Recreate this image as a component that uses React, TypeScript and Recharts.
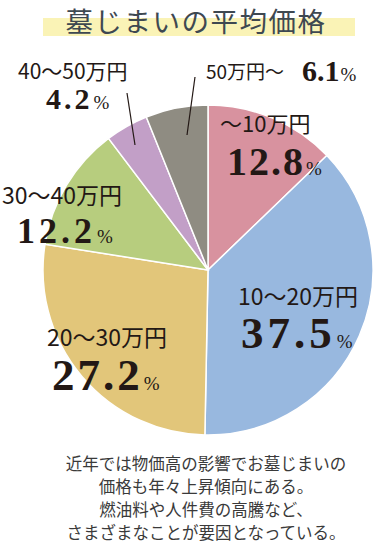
import React from 'react';
import { PieChart, Pie, Cell } from 'recharts';

const categories = ['〜10万円', '10〜20万円', '20〜30万円', '30〜40万円', '40〜50万円', '50万円〜'];
const shares = [12.8, 37.5, 27.2, 12.2, 4.2, 6.1];
const sliceColors = ['#d8929f', '#98b8df', '#e2c67a', '#b7cd7e', '#c29fc7', '#8f8c82'];

const title = '墓じまいの平均価格';
const captionLines = [
  '近年では物価高の影響でお墓じまいの',
  '価格も年々上昇傾向にある。',
  '燃油料や人件費の高騰など、',
  'さまざまなことが要因となっている。',
];

const data = categories.map((name, i) => ({ name, value: shares[i] }));

const CX = 208;
const CY = 270;
const RADIUS = 165;

// label placement relative to pie centre
const labelLayout = [
  { nameX: 12, nameY: -138, nameSize: 22, numX: 19, numY: -95, numSize: 40, ls: 2 },
  { nameX: 30, nameY: 35, nameSize: 23, numX: 33, numY: 78, numSize: 45, ls: 4 },
  { nameX: -161, nameY: 76, nameSize: 23, numX: -156, numY: 120, numSize: 45, ls: 3 },
  { nameX: -206, nameY: -66, nameSize: 23, numX: -191, numY: -27, numSize: 36, ls: 4 },
  { nameX: -190, nameY: -191, nameSize: 21, numX: -162, numY: -161, numSize: 30, ls: 3 },
  { nameX: -2, nameY: -191, nameSize: 19, numX: 94, numY: -189, numSize: 30, ls: 0 },
];

const leaderLines: Record<number, [number, number, number, number]> = {
  4: [-81, -177, -73, -125],
  5: [-13, -193, -21, -135],
};

const textColor = '#231815';

const renderLabel = (props: any) => {
  const { cx, cy, index, value, name } = props;
  const l = labelLayout[index];
  const line = leaderLines[index];
  return (
    <g key={`lbl-${index}`}>
      {line && (
        <line
          x1={cx + line[0]}
          y1={cy + line[1]}
          x2={cx + line[2]}
          y2={cy + line[3]}
          stroke={textColor}
          strokeWidth={1.2}
        />
      )}
      <text
        x={cx + l.nameX}
        y={cy + l.nameY}
        fill={textColor}
        fontFamily="'Noto Sans CJK JP', sans-serif"
        fontSize={l.nameSize}
      >
        {name}
      </text>
      <text x={cx + l.numX} y={cy + l.numY} fill={textColor}>
        <tspan
          fontFamily="'Liberation Serif', serif"
          fontWeight="bold"
          fontSize={l.numSize}
          letterSpacing={l.ls}
        >
          {value.toFixed(1)}
        </tspan>
        <tspan fontFamily="'Liberation Serif', serif" fontSize={19} dx={1}>
          %
        </tspan>
      </text>
    </g>
  );
};

const App: React.FC = () => {
  return (
    <div style={{ position: 'relative', width: 376, height: 547, background: '#fff', overflow: 'hidden' }}>
      <style>{`body{margin:0}`}</style>
      <svg width={376} height={547} style={{ position: 'absolute', left: 0, top: 0 }}>
        <rect x={43} y={18} width={312} height={18} fill="#faf3b6" />
        <text
          x={196}
          y={32}
          textAnchor="middle"
          fill="#3e4851"
          fontFamily="'Noto Sans CJK JP', sans-serif"
          fontSize={27.5}
          letterSpacing={1.5}
        >
          {title}
        </text>
        {captionLines.map((t, i) => (
          <text
            key={t}
            x={206}
            y={470 + i * 23}
            textAnchor="middle"
            fill="#3a3a3a"
            fontFamily="'Noto Sans CJK JP', sans-serif"
            fontSize={16.5}
          >
            {t}
          </text>
        ))}
      </svg>
      <div style={{ position: 'absolute', left: 0, top: 0 }}>
        <PieChart width={376} height={547} margin={{ top: 0, right: 0, bottom: 0, left: 0 }}>
          <Pie
            data={data}
            dataKey="value"
            nameKey="name"
            cx={CX}
            cy={CY}
            outerRadius={RADIUS}
            startAngle={90}
            endAngle={-270}
            stroke="#ffffff"
            strokeWidth={1.5}
            label={renderLabel}
            labelLine={false}
            isAnimationActive={false}
          >
            {data.map((d, i) => (
              <Cell key={d.name} fill={sliceColors[i]} />
            ))}
          </Pie>
        </PieChart>
      </div>
    </div>
  );
};

export default App;
